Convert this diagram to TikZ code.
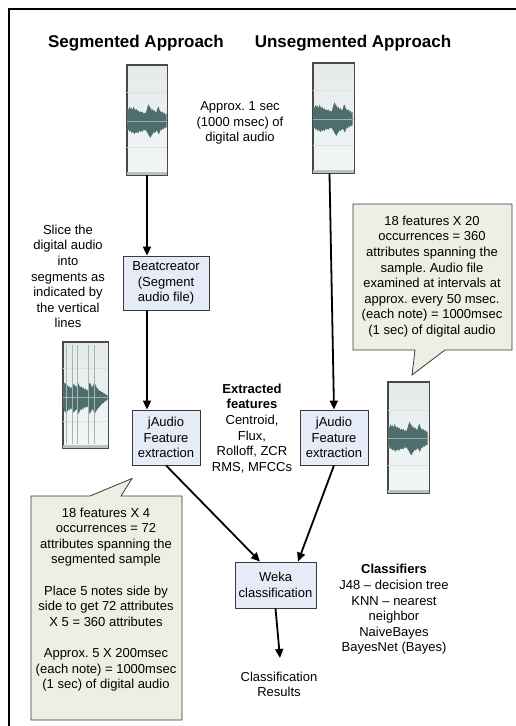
\documentclass[tikz,border=0pt]{standalone}
\usepackage{fontspec}
\setmainfont{Liberation Sans}
\usetikzlibrary{arrows.meta}
\frenchspacing
\definecolor{boxfill}{HTML}{E6ECF7}
\definecolor{boxdraw}{HTML}{3A3A3A}
\definecolor{callfill}{HTML}{EEEEE4}
\definecolor{wavecol}{HTML}{4E6E6E}
\definecolor{imgtop}{HTML}{E4EAEA}
\definecolor{imgbot}{HTML}{F3F6F6}
\definecolor{imgedge}{HTML}{484848}
\definecolor{imgband}{HTML}{B9C2C2}
\definecolor{gridcol}{HTML}{DCE1E1}
\definecolor{slicecol}{HTML}{A8B4B4}
\tikzset{
  txt/.style={font=\fontsize{13}{15.6}\selectfont, align=center, inner sep=0pt},
  ttl/.style={font=\fontsize{17}{20}\selectfont\bfseries, inner sep=0pt},
  procbox/.style={draw=boxdraw, fill=boxfill, line width=0.8pt, txt},
  flow/.style={line width=1.8pt, -{Triangle[length=9pt,width=8pt]}},
  callout/.style={draw=boxdraw, fill=callfill, line width=0.8pt, line join=miter},
  audiobox/.style={draw=imgedge, line width=0.8pt, top color=imgtop, bottom color=imgbot, inner sep=0pt},
}
\newcommand\WaveA{(0,-9)--(1,-11)--(2,-9)--(3,-12)--(4,-10)--(5,-11)--(6,-9)--(7,-12)--(8,-10)--(9,-9)--(10,-10)--(11,-8)--(12,-9)--(13,-7)--(14,-8)--(15,-7)--(16,-8)--(17,-6)--(18,-7)--(19,-6)--(20,-9)--(21,-12)--(22,-14)--(23,-12)--(24,-11)--(25,-9)--(26,-10)--(27,-8)--(28,-9)--(29,-7)--(30,-8)--(31,-11)--(32,-12)--(33,-9)--(34,-8)--(35,-7)--(36,-8)--(37,-6)--(38,-7)--(39,-5)--(40,-6)--(40,5)--(39,6)--(38,5)--(37,7)--(36,6)--(35,8)--(34,7)--(33,10)--(32,11)--(31,9)--(30,8)--(29,9)--(28,10)--(27,9)--(26,11)--(25,12)--(24,14)--(23,13)--(22,12)--(21,10)--(20,9)--(19,7)--(18,8)--(17,7)--(16,9)--(15,8)--(14,9)--(13,8)--(12,10)--(11,9)--(10,10)--(9,9)--(8,11)--(7,10)--(6,9)--(5,10)--(4,8)--(3,9)--(2,7)--(1,8)--(0,6)--cycle}
\newcommand\WaveB{(0,-8)--(1,-10)--(2,-12)--(3,-11)--(4,-9)--(5,-10)--(6,-8)--(7,-9)--(8,-7)--(9,-8)--(10,-9)--(11,-11)--(12,-10)--(13,-9)--(14,-8)--(15,-12)--(16,-11)--(17,-9)--(18,-8)--(19,-9)--(20,-7)--(21,-8)--(22,-6)--(23,-7)--(24,-6)--(25,-5)--(26,-9)--(27,-12)--(28,-11)--(29,-9)--(30,-8)--(31,-11)--(32,-12)--(33,-10)--(34,-8)--(35,-7)--(36,-6)--(37,-5)--(38,-5)--(39,-4)--(40,-4)--(41,-3)--(42,-3)--(43,-2)--(44,-2)--(45,-1)--(45,2)--(44,3)--(43,3)--(42,4)--(41,5)--(40,5)--(39,6)--(38,7)--(37,8)--(36,9)--(35,10)--(34,11)--(33,13)--(32,14)--(31,12)--(30,10)--(29,11)--(28,13)--(27,14)--(26,11)--(25,8)--(24,8)--(23,9)--(22,8)--(21,10)--(20,9)--(19,11)--(18,10)--(17,12)--(16,14)--(15,13)--(14,10)--(13,11)--(12,12)--(11,13)--(10,11)--(9,10)--(8,9)--(7,11)--(6,10)--(5,12)--(4,11)--(3,13)--(2,12)--(1,10)--(0,9)--cycle}
% name, cx, cy, w, h, wave, wave y offset
\newcommand\AudioImg[7]{%
  \node[audiobox, minimum width=#4pt, minimum height=#5pt] (#1) at (#2,#3) {};
  \draw[gridcol, line width=0.5pt] ([xshift=0.5pt,yshift=#5pt*0.25]#1.west) -- ([xshift=-0.5pt,yshift=#5pt*0.25]#1.east);
  \draw[gridcol, line width=0.5pt] ([xshift=0.5pt,yshift=-#5pt*0.25]#1.west) -- ([xshift=-0.5pt,yshift=-#5pt*0.25]#1.east);
  \fill[imgband] ([xshift=0.4pt,yshift=0.4pt]#1.south west) rectangle ([xshift=-0.4pt,yshift=3pt]#1.south east);
  \begin{scope}[shift={(#1.west)}, yshift=-#7pt, yscale=1.2]
    \fill[wavecol] #6;
    \draw[wavecol!55!white, line width=0.4pt] (0,0) -- (#4,0);
  \end{scope}
  \draw[imgedge, line width=0.8pt] (#1.south west) rectangle (#1.north east);
}
\begin{document}
\begin{tikzpicture}[x=1pt,y=-1pt]
\useasboundingbox (0,0) rectangle (516,726);
\fill[white] (0,0) rectangle (516,726);
% frame
\draw[line width=2pt] (8.5,740) -- (8.5,8.5) -- (530,8.5);

% titles
\node[ttl] (t1) at (136,43) {Segmented Approach};
\node[ttl] (t2) at (353,43) {Unsegmented Approach};

% audio images
\AudioImg{audA}{147}{120}{40}{110}{\WaveA}{1}
\AudioImg{audB}{333.5}{118}{41}{110}{\WaveA}{1}
\AudioImg{audR}{408.5}{437.5}{41}{111}{\WaveA}{1}
\AudioImg{audS}{85.5}{395}{45}{106}{\WaveB}{2}
% slice lines in segmented image
\foreach \dx in {4,10,15,26,32} {
  \draw[slicecol, line width=0.5pt] ([xshift=\dx pt, yshift=-3pt]audS.north west) -- ([xshift=\dx pt, yshift=5pt]audS.south west);
  \fill[slicecol] ([xshift=\dx pt-0.8pt, yshift=-3pt]audS.north west) rectangle ([xshift=\dx pt+0.8pt, yshift=-4.5pt]audS.north west);
  \fill[slicecol] ([xshift=\dx pt-0.8pt, yshift=4pt]audS.south west) rectangle ([xshift=\dx pt+0.8pt, yshift=5.5pt]audS.south west);
}

% texts
\node[txt] (approx) at (240,123) {Approx. 1 sec\\(1000 msec) of\\digital audio};
\node[txt] (slice) at (68,276.5) {Slice the\\digital audio\\into\\segments as\\indicated by\\the vertical\\lines};
\node[txt] (extr) at (252,428.5) {\textbf{Extracted}\\\textbf{features}\\Centroid,\\Flux,\\Rolloff, ZCR\\RMS, MFCCs};
\node[txt] (clsf) at (394,609.5) {\textbf{Classifiers}\\J48 -- decision tree\\KNN -- nearest\\neighbor\\NaiveBayes\\BayesNet (Bayes)};
\node[txt] (res) at (279,684.5) {Classification\\Results};

% process boxes
\node[procbox, minimum width=86pt, minimum height=54pt] (beat) at (166,283) {Beatcreator\\(Segment\\audio file)};
\node[procbox, minimum width=68pt, minimum height=55pt] (jaud1) at (166,437.5) {jAudio\\Feature\\extraction};
\node[procbox, minimum width=68pt, minimum height=55pt] (jaud2) at (334,437.5) {jAudio\\Feature\\extraction};
\node[procbox, minimum width=81pt, minimum height=46pt] (weka) at (275.5,585) {Weka\\classification};

% callouts
\draw[callout] (353,204) -- (512,204) -- (512,350) -- (445,350) -- (412,375) -- (415,350) -- (353,350) -- cycle;
\node[txt] (rc) at (432,276.5) {18 features X 20\\occurrences = 360\\attributes spanning the\\sample. Audio file\\examined at intervals at\\approx. every 50 msec.\\(each note) = 1000msec\\(1 sec) of digital audio};
\draw[callout] (31,496) -- (90,496) -- (132,478.5) -- (121,496) -- (182,496) -- (182,720) -- (31,720) -- cycle;
\node[txt] (lc) at (106,599.5) {18 features X 4\\occurrences = 72\\attributes spanning the\\segmented sample\\[15.6pt]Place 5 notes side by\\side to get 72 attributes\\X 5 = 360 attributes\\[15.6pt]Approx. 5 X 200msec\\(each note) = 1000msec\\(1 sec) of digital audio};

% connectors
\coordinate (resarrow) at (280,658);
\draw[flow] (audA.south) -- (audA.south |- beat.north);
\draw[flow] (beat.south -| audA.south) -- (audA.south |- jaud1.north);
\draw[flow] ([xshift=-4pt]audB.south) -- (jaud2.north);
\draw[flow] (jaud1.south) -- ([xshift=-15.5pt]weka.north);
\draw[flow] (jaud2.south) -- ([xshift=22.5pt]weka.north);
\draw[flow] (weka.south) -- (resarrow);
\end{tikzpicture}
\end{document}
